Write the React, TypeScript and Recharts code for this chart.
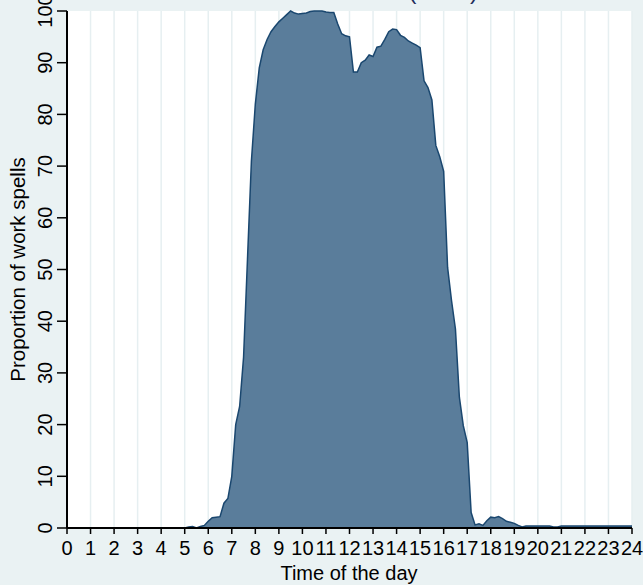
import { AreaChart, Area, XAxis, YAxis, CartesianGrid } from "recharts";

// 10-minute slots, one row per hour of the day (share of work spells in %)
const slotsPerHour = 6;
const share = [
  0, 0, 0, 0, 0, 0, // 0h
  0, 0, 0, 0, 0, 0, // 1h
  0, 0, 0, 0, 0, 0, // 2h
  0, 0, 0, 0, 0, 0, // 3h
  0, 0, 0, 0, 0, 0, // 4h
  0, 0.2, 0.3, 0, 0.3, 0.5, // 5h
  1.3, 2.0, 2.1, 2.2, 4.8, 5.7, // 6h
  10, 20, 23.5, 33, 52, 71, // 7h
  82, 89, 92.5, 94.5, 96, 97, // 8h
  97.9, 98.6, 99.3, 100, 99.6, 99.4, // 9h
  99.5, 99.6, 99.9, 100, 100, 100, // 10h
  99.8, 99.7, 99.7, 97.5, 95.6, 95.2, // 11h
  95, 88.2, 88.2, 90, 90.5, 91.5, // 12h
  91.2, 93, 93.2, 94.5, 96, 96.5, // 13h
  96.4, 95.3, 94.9, 94.2, 93.8, 93.4, // 14h
  92.9, 86.5, 85.2, 82.8, 74, 71.8, // 15h
  69, 50.4, 44, 38.5, 25.3, 19.8, // 16h
  16.5, 3, 0.6, 0.8, 0.5, 1.4, // 17h
  2.1, 2.0, 2.2, 1.8, 1.3, 1.1, // 18h
  0.9, 0.5, 0.2, 0.4, 0.4, 0.4, // 19h
  0.4, 0.4, 0.4, 0.4, 0.2, 0.2, // 20h
  0.4, 0.4, 0.4, 0.4, 0.4, 0.4, // 21h
  0.4, 0.4, 0.4, 0.4, 0.4, 0.4, // 22h
  0.4, 0.4, 0.4, 0.4, 0.4, 0.4, // 23h
  0.4, // 24h
];

const hourTicks = [0, 1, 2, 3, 4, 5, 6, 7, 8, 9, 10, 11, 12, 13, 14, 15, 16, 17, 18, 19, 20, 21, 22, 23, 24];
const shareTicks = [0, 10, 20, 30, 40, 50, 60, 70, 80, 90, 100];

const data = share.map((v, i) => ({ hour: i / slotsPerHour, share: v }));

const FONT = '"Liberation Sans", Arial, Helvetica, sans-serif';
const W = 643;
const H = 585;

function HourTick({ x, y, payload }: any) {
  return (
    <text x={x} y={y} dy={19} textAnchor="middle" fontSize={20} fill="#000" fontFamily={FONT}>
      {payload.value}
    </text>
  );
}

function ShareTick({ x, y, payload }: any) {
  const bx = x - 3;
  return (
    <text
      x={bx}
      y={y}
      textAnchor="middle"
      fontSize={20}
      fill="#000"
      fontFamily={FONT}
      transform={`rotate(-90 ${bx} ${y})`}
    >
      {payload.value}
    </text>
  );
}

export default function App() {
  return (
    <div style={{ position: "fixed", left: 0, top: 0, width: W, height: H, background: "#EAF2F3" }}>
      <AreaChart width={W} height={H} data={data} margin={{ top: 11, right: 11, left: 0, bottom: 0 }}>
        <CartesianGrid horizontal={false} vertical={true} stroke="#E6EFF1" strokeWidth={1.5} fill="#ffffff" />
        <XAxis
          dataKey="hour"
          type="number"
          domain={[0, 24]}
          ticks={hourTicks}
          interval={0}
          height={57}
          tickSize={6}
          tickMargin={2}
          axisLine={{ stroke: "#000", strokeWidth: 2 }}
          tickLine={{ stroke: "#000", strokeWidth: 1.5 }}
          tick={<HourTick />}
        />
        <YAxis
          type="number"
          domain={[0, 100]}
          ticks={shareTicks}
          interval={0}
          width={67}
          tickSize={10}
          tickMargin={2}
          axisLine={{ stroke: "#000", strokeWidth: 2 }}
          tickLine={{ stroke: "#000", strokeWidth: 1.5 }}
          tick={<ShareTick />}
        />
        <Area
          type="linear"
          dataKey="share"
          stroke="#1A476F"
          strokeWidth={1.5}
          fill="#5A7D9B"
          fillOpacity={1}
          dot={false}
          activeDot={false}
          isAnimationActive={false}
        />
      </AreaChart>
      <svg width={W} height={H} style={{ position: "absolute", left: 0, top: 0, pointerEvents: "none" }}>
        <text x={478} y={-1.2} textAnchor="end" fontSize={24} fill="#1E2D5A" fontFamily={FONT}>
          Work schedule of men (2010)
        </text>
        <text
          x={24.5}
          y={269.5}
          textAnchor="middle"
          fontSize={20.5}
          fill="#000"
          fontFamily={FONT}
          transform="rotate(-90 24.5 269.5)"
        >
          Proportion of work spells
        </text>
        <text x={349} y={580} textAnchor="middle" fontSize={20} fill="#000" fontFamily={FONT}>
          Time of the day
        </text>
      </svg>
    </div>
  );
}
